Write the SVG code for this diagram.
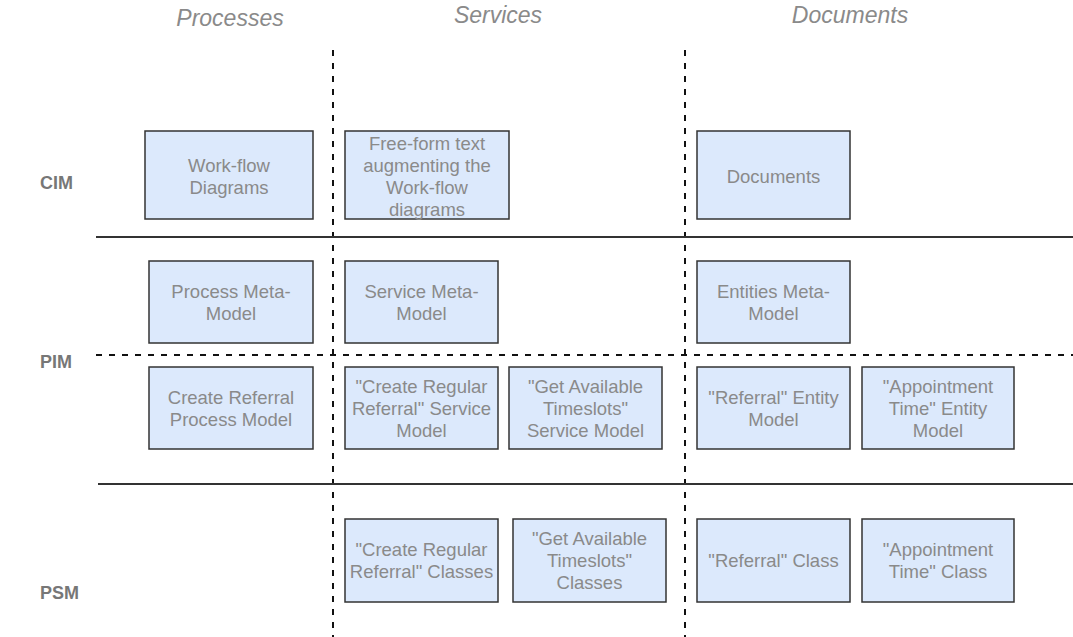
<svg xmlns="http://www.w3.org/2000/svg" width="1073" height="637" viewBox="0 0 1073 637">
  <style>
    .box rect { fill: #dce9fc; stroke: #333333; stroke-width: 1.5; }
    .box text { font-family: "Liberation Sans", Arial, sans-serif; font-size: 18.5px; fill: #8a8a8a; text-anchor: middle; }
    .head { font-family: "Liberation Sans", Arial, sans-serif; font-size: 23px; font-style: italic; fill: #8a8a8a; text-anchor: middle; }
    .row { font-family: "Liberation Sans", Arial, sans-serif; font-size: 18px; font-weight: bold; fill: #777777; }
    .solid { stroke: #333333; stroke-width: 2.2; fill: none; }
    .dash { stroke: #111111; stroke-width: 2; fill: none; stroke-dasharray: 6 7; }
  </style>

  <!-- column headers -->
  <g id="headers">
    <text class="head" x="230" y="26">Processes</text>
    <text class="head" x="498" y="23">Services</text>
    <text class="head" x="850" y="23">Documents</text>
  </g>

  <!-- row labels -->
  <g id="rows">
    <text class="row" x="40" y="189">CIM</text>
    <text class="row" x="40" y="368">PIM</text>
    <text class="row" x="40" y="599">PSM</text>
  </g>

  <!-- separators -->
  <g id="connectors">
    <line class="dash" x1="333" y1="50" x2="333" y2="637"/>
    <line class="dash" x1="685" y1="50" x2="685" y2="637"/>
    <line class="solid" x1="96" y1="237" x2="1073" y2="237"/>
    <line class="dash" x1="96" y1="355" x2="1073" y2="355" stroke-dasharray="7 8"/>
    <line class="solid" x1="98" y1="484" x2="1073" y2="484"/>
  </g>

  <!-- CIM row -->
  <g id="workflow-diagrams" class="box">
    <rect x="145" y="131" width="168" height="88"/>
    <text x="229" y="171.5">Work-flow</text>
    <text x="229" y="193.5">Diagrams</text>
  </g>
  <g id="free-form-text" class="box">
    <rect x="345" y="131" width="164" height="88"/>
    <text x="427" y="149.5">Free-form text</text>
    <text x="427" y="171.5">augmenting the</text>
    <text x="427" y="193.5">Work-flow</text>
    <text x="427" y="215.5">diagrams</text>
  </g>
  <g id="documents" class="box">
    <rect x="697" y="131" width="153" height="88"/>
    <text x="773.5" y="182.5">Documents</text>
  </g>

  <!-- PIM meta-models -->
  <g id="process-meta-model" class="box">
    <rect x="149" y="261" width="164" height="82"/>
    <text x="231" y="297.5">Process Meta-</text>
    <text x="231" y="319.5">Model</text>
  </g>
  <g id="service-meta-model" class="box">
    <rect x="345" y="261" width="153" height="82"/>
    <text x="421.5" y="297.5">Service Meta-</text>
    <text x="421.5" y="319.5">Model</text>
  </g>
  <g id="entities-meta-model" class="box">
    <rect x="697" y="261" width="153" height="82"/>
    <text x="773.5" y="297.5">Entities Meta-</text>
    <text x="773.5" y="319.5">Model</text>
  </g>

  <!-- PIM models -->
  <g id="create-referral-process-model" class="box">
    <rect x="149" y="367" width="164" height="82"/>
    <text x="231" y="403.5">Create Referral</text>
    <text x="231" y="425.5">Process Model</text>
  </g>
  <g id="create-regular-referral-service-model" class="box">
    <rect x="345" y="367" width="153" height="82"/>
    <text x="421.5" y="392.5">"Create Regular</text>
    <text x="421.5" y="414.5">Referral" Service</text>
    <text x="421.5" y="436.5">Model</text>
  </g>
  <g id="get-available-timeslots-service-model" class="box">
    <rect x="509" y="367" width="153" height="82"/>
    <text x="585.5" y="392.5">"Get Available</text>
    <text x="585.5" y="414.5">Timeslots"</text>
    <text x="585.5" y="436.5">Service Model</text>
  </g>
  <g id="referral-entity-model" class="box">
    <rect x="697" y="367" width="153" height="82"/>
    <text x="773.5" y="403.5">"Referral" Entity</text>
    <text x="773.5" y="425.5">Model</text>
  </g>
  <g id="appointment-time-entity-model" class="box">
    <rect x="862" y="367" width="152" height="82"/>
    <text x="938" y="392.5">"Appointment</text>
    <text x="938" y="414.5">Time" Entity</text>
    <text x="938" y="436.5">Model</text>
  </g>

  <!-- PSM row -->
  <g id="create-regular-referral-classes" class="box">
    <rect x="345" y="519" width="153" height="83"/>
    <text x="421.5" y="556">"Create Regular</text>
    <text x="421.5" y="578">Referral" Classes</text>
  </g>
  <g id="get-available-timeslots-classes" class="box">
    <rect x="513" y="519" width="153" height="83"/>
    <text x="589.5" y="545">"Get Available</text>
    <text x="589.5" y="567">Timeslots"</text>
    <text x="589.5" y="589">Classes</text>
  </g>
  <g id="referral-class" class="box">
    <rect x="697" y="519" width="153" height="83"/>
    <text x="773.5" y="567">"Referral" Class</text>
  </g>
  <g id="appointment-time-class" class="box">
    <rect x="862" y="519" width="152" height="83"/>
    <text x="938" y="556">"Appointment</text>
    <text x="938" y="578">Time" Class</text>
  </g>
</svg>
